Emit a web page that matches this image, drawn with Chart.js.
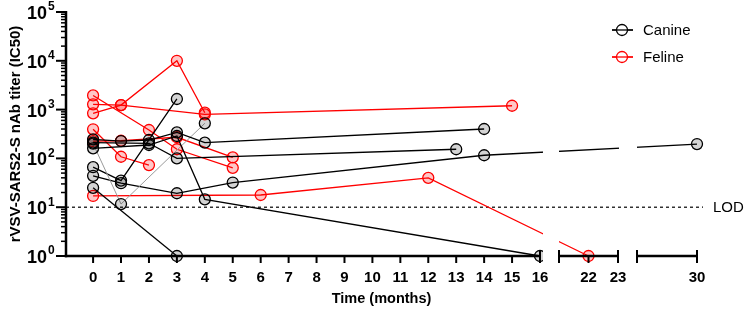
<!DOCTYPE html>
<html>
<head>
<meta charset="utf-8">
<script src="https://cdn.jsdelivr.net/npm/chart.js@4.4.1/dist/chart.umd.min.js"></script>
<style>
  html, body { margin: 0; padding: 0; background: #fff; }
  canvas { display: block; }
</style>
</head>
<body>
<canvas id="c" width="747" height="311"></canvas>
<script>
// ---------- DATA (months, IC50 titers) ----------
// Canine individuals
const dogA_t = [0, 1, 2, 3, 4, 14];
const dogA_v = [246, 227, 238, 342, 210, 400];
const dogB_t = [0, 2, 3, 13];
const dogB_v = [210, 204, 100, 154];
const dogC_t = [0, 2, 3, 4, 16];
const dogC_v = [161, 188, 288, 14.5, 1];
const dogD_t = [0, 1, 4];            // thin grey trace
const dogD_v = [200, 11.6, 524];
const dogE_t = [0, 1, 3];
const dogE_v = [66, 35, 1650];
const dogF_t = [0, 1, 3, 5, 14, 30];
const dogF_v = [44, 31, 19.3, 32, 116, 197];
const dogG_t = [0, 3];
const dogG_v = [25, 1];

// Feline individuals
const catA_t = [0, 1, 4, 15];
const catA_v = [1280, 1240, 800, 1200];
const catB_t = [0, 1, 3, 4];
const catB_v = [840, 1240, 10000, 864];
const catC_t = [0, 2, 3, 5];
const catC_v = [1950, 382, 154, 64];
const catD_t = [0, 6, 12, 22];
const catD_v = [17, 17.8, 40, 1];
const catE_t = [0, 1, 2];
const catE_v = [395, 108, 73];
const catF_t = [0, 1, 3, 5];
const catF_v = [225, 230, 271, 105];

// Tick labels / text
const xTickValues = [0,1,2,3,4,5,6,7,8,9,10,11,12,13,14,15,16,22,23,30];
const yDecades = [0,1,2,3,4,5];
const lodValue = 10;
const speciesNames = ['Canine', 'Feline'];
const xTitle = 'Time (months)';
const yTitle = 'rVSV-SARS2-S nAb titer (IC50)';

// ---------- broken x axis (layout config) ----------
const AXIS_W = 631;
const xSegments = [
  { v0: -0.97, v1: 16, p0: 0,   p1: 474 },
  { v0: 21,    v1: 23, p0: 493, p1: 552 },
  { v0: 28,    v1: 30, p0: 571, p1: 631 }
];
function valToFrac(v) {
  for (let i = 0; i < xSegments.length; i++) {
    const s = xSegments[i];
    const next = xSegments[i + 1];
    if (v <= s.v1 || !next || v < next.v0) {
      const p = s.p0 + (v - s.v0) * (s.p1 - s.p0) / (s.v1 - s.v0);
      if (next && v > s.v1) { // inside a gap: interpolate
        const q = s.p1 + (v - s.v1) * (next.p0 - s.p1) / (next.v0 - s.v1);
        return q / AXIS_W;
      }
      return p / AXIS_W;
    }
  }
  return 1;
}
function fracToVal(f) {
  const p = f * AXIS_W;
  for (const s of xSegments) {
    if (p <= s.p1) return s.v0 + (p - s.p0) * (s.v1 - s.v0) / (s.p1 - s.p0);
  }
  const s = xSegments[xSegments.length - 1];
  return s.v0 + (p - s.p0) * (s.v1 - s.v0) / (s.p1 - s.p0);
}

class BrokenScale extends Chart.LinearScale {
  getPixelForValue(value) {
    if (value === null || value === undefined || isNaN(value)) return NaN;
    return this.left + this.width * valToFrac(value);
  }
  getValueForPixel(pixel) {
    return fracToVal((pixel - this.left) / this.width);
  }
}
BrokenScale.id = 'broken';
BrokenScale.defaults = Chart.LinearScale.defaults;
Chart.register(BrokenScale);

// ---------- datasets ----------
const BLACK = '#000000', RED = '#ff0000';
const GREY_FILL = 'rgba(0,0,0,0.17)', RED_FILL = 'rgba(255,0,0,0.22)';
function mk(label, t, v, color, fill, lineColor, lineW) {
  return {
    label,
    data: t.map((x, i) => ({ x: x, y: v[i] })),
    borderColor: lineColor || color,
    borderWidth: lineW || 1.3,
    pointBorderColor: color,
    pointBackgroundColor: fill,
    pointBorderWidth: 1.3,
    pointRadius: 5.5,
    fill: false,
    tension: 0,
    clip: false
  };
}
const datasets = [
  mk('Canine', dogA_t, dogA_v, BLACK, GREY_FILL),
  mk('Canine', dogB_t, dogB_v, BLACK, GREY_FILL),
  mk('Canine', dogC_t, dogC_v, BLACK, GREY_FILL),
  mk('Canine', dogD_t, dogD_v, BLACK, GREY_FILL, '#9a9a9a', 1),
  mk('Canine', dogE_t, dogE_v, BLACK, GREY_FILL),
  mk('Canine', dogF_t, dogF_v, BLACK, GREY_FILL),
  mk('Canine', dogG_t, dogG_v, BLACK, GREY_FILL),
  mk('Feline', catA_t, catA_v, RED, RED_FILL),
  mk('Feline', catB_t, catB_v, RED, RED_FILL),
  mk('Feline', catC_t, catC_v, RED, RED_FILL),
  mk('Feline', catD_t, catD_v, RED, RED_FILL),
  mk('Feline', catE_t, catE_v, RED, RED_FILL),
  mk('Feline', catF_t, catF_v, RED, RED_FILL)
];

const FONT = '"Liberation Sans", Arial, Helvetica, sans-serif';

const decor = {
  id: 'decor',
  beforeDatasetsDraw(chart) {
    const ctx = chart.ctx, xs = chart.scales.x, ys = chart.scales.y;
    // LOD dashed line
    const yl = ys.getPixelForValue(lodValue);
    ctx.save();
    ctx.strokeStyle = '#000';
    ctx.lineWidth = 1.2;
    ctx.setLineDash([3, 3]);
    ctx.beginPath();
    ctx.moveTo(xs.left, yl);
    ctx.lineTo(xs.right + 6, yl);
    ctx.stroke();
    ctx.restore();
    // clip away the axis-break gaps
    const W = chart.width, H = chart.height;
    const g1a = xs.getPixelForValue(xSegments[0].v1) + 3;
    const g1b = xs.getPixelForValue(xSegments[1].v0);
    const g2a = xs.getPixelForValue(xSegments[1].v1) + 1;
    const g2b = xs.getPixelForValue(xSegments[2].v0);
    ctx.save();
    ctx.beginPath();
    ctx.rect(0, 0, g1a, H);
    ctx.rect(g1b, 0, g2a - g1b, H);
    ctx.rect(g2b, 0, W - g2b, H);
    ctx.clip();
  },
  afterDatasetsDraw(chart) {
    chart.ctx.restore();
  },
  afterDraw(chart) {
    const ctx = chart.ctx, xs = chart.scales.x, ys = chart.scales.y;
    const yb = ys.bottom, xl = ys.right;
    ctx.save();
    ctx.strokeStyle = '#000';
    ctx.fillStyle = '#000';
    ctx.lineCap = 'butt';
    // y axis line
    ctx.lineWidth = 2.5;
    ctx.beginPath();
    ctx.moveTo(xl, ys.top - 1);
    ctx.lineTo(xl, yb + 1.25);
    ctx.stroke();
    // y ticks
    yDecades.forEach(e => {
      const y = ys.getPixelForValue(Math.pow(10, e));
      ctx.lineWidth = 2;
      ctx.beginPath(); ctx.moveTo(xl - 10, y); ctx.lineTo(xl, y); ctx.stroke();
      if (e < yDecades[yDecades.length - 1]) {
        for (let m = 2; m <= 9; m++) {
          const ym = ys.getPixelForValue(m * Math.pow(10, e));
          ctx.lineWidth = 1.5;
          ctx.beginPath(); ctx.moveTo(xl - 5, ym); ctx.lineTo(xl, ym); ctx.stroke();
        }
      }
      // label 10^e
      ctx.font = 'bold 18px ' + FONT;
      ctx.textAlign = 'right';
      ctx.textBaseline = 'middle';
      ctx.fillText('10', xl - 19, y + 2);
      ctx.font = 'bold 12px ' + FONT;
      ctx.textAlign = 'left';
      ctx.fillText(String(e), xl - 18, y - 5);
    });
    // x axis segments
    xSegments.forEach((s, i) => {
      const p0 = i === 0 ? xl : xs.getPixelForValue(s.v0);
      const p1 = xs.getPixelForValue(s.v1);
      ctx.lineWidth = 2.5;
      ctx.beginPath(); ctx.moveTo(p0 - (i === 0 ? 1.25 : 0), yb); ctx.lineTo(p1, yb); ctx.stroke();
      ctx.lineWidth = 2;
      if (i > 0) { ctx.beginPath(); ctx.moveTo(p0, yb - 6); ctx.lineTo(p0, yb + 7); ctx.stroke(); }
      ctx.beginPath(); ctx.moveTo(p1, yb - 6); ctx.lineTo(p1, yb + 7); ctx.stroke();
    });
    // x ticks + labels
    ctx.font = 'bold 15px ' + FONT;
    ctx.textAlign = 'center';
    ctx.textBaseline = 'middle';
    xTickValues.forEach(v => {
      const p = xs.getPixelForValue(v);
      ctx.lineWidth = 2;
      ctx.beginPath(); ctx.moveTo(p, yb); ctx.lineTo(p, yb + 7); ctx.stroke();
      ctx.fillText(String(v), p, yb + 21.5);
    });
    // x title
    ctx.font = 'bold 14.5px ' + FONT;
    ctx.fillText(xTitle, (xs.left + xs.right) / 2, yb + 43);
    // y title
    ctx.save();
    ctx.translate(16, (ys.top + ys.bottom) / 2);
    ctx.rotate(-Math.PI / 2);
    ctx.font = 'bold 15px ' + FONT;
    ctx.textAlign = 'center';
    ctx.textBaseline = 'middle';
    ctx.fillText(yTitle, 0, 0);
    ctx.restore();
    // LOD label
    ctx.font = '15px ' + FONT;
    ctx.textAlign = 'left';
    ctx.textBaseline = 'middle';
    ctx.fillText('LOD', xs.right + 16, ys.getPixelForValue(lodValue) + 0.5);
    // legend
    const legColors = [BLACK, RED];
    const legFills = ['rgba(255,255,255,1)', 'rgba(255,255,255,1)'];
    speciesNames.forEach((name, i) => {
      const y = 30 + i * 27;
      ctx.strokeStyle = legColors[i];
      ctx.lineWidth = 1.3;
      ctx.beginPath(); ctx.moveTo(612, y); ctx.lineTo(633, y); ctx.stroke();
      ctx.beginPath(); ctx.arc(622, y, 5.5, 0, Math.PI * 2);
      ctx.fillStyle = legFills[i]; ctx.fill();
      ctx.stroke();
      ctx.beginPath(); ctx.moveTo(612, y); ctx.lineTo(633, y); ctx.stroke();
      ctx.fillStyle = '#000';
      ctx.font = '15px ' + FONT;
      ctx.fillText(name, 643, y + 0.5);
    });
    ctx.restore();
  }
};

new Chart(document.getElementById('c'), {
  type: 'line',
  data: { datasets },
  options: {
    responsive: false,
    animation: false,
    events: [],
    layout: { padding: { top: 12, right: 50, left: 0, bottom: 0 } },
    plugins: { legend: { display: false }, tooltip: { enabled: false } },
    scales: {
      x: {
        type: 'broken', min: -0.97, max: 30,
        ticks: { display: false }, grid: { display: false }, border: { display: false },
        afterFit(s) { s.height = 55; }
      },
      y: {
        type: 'logarithmic', min: 1, max: 100000,
        ticks: { display: false }, grid: { display: false }, border: { display: false },
        afterFit(s) { s.width = 66; }
      }
    }
  },
  plugins: [decor]
});
</script>
</body>
</html>
